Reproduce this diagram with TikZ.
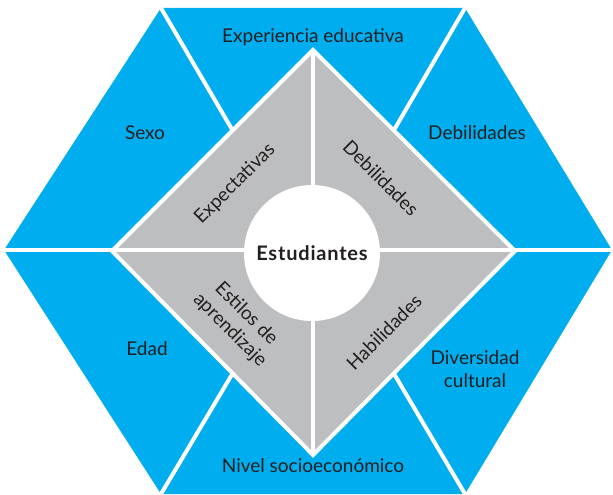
\documentclass[tikz,border=0pt]{standalone}
\usepackage{fontspec}
\setmainfont{Lato}
\usetikzlibrary{positioning,calc}
\definecolor{hexblue}{HTML}{00AEEF}
\definecolor{rhombgray}{HTML}{BCBEC0}
\definecolor{inkdark}{HTML}{231F20}

\begin{document}
\begin{tikzpicture}[x=1pt,y=-1pt,
  gap/.style={white,line width=4pt},
  lab/.style={text=inkdark,font=\fontsize{19}{23}\selectfont,align=center,inner sep=0pt}]
  \useasboundingbox (0,0) rectangle (613,495);

  \coordinate (hl) at (4,250);
  \coordinate (htl) at (161,8);
  \coordinate (htr) at (465,8);
  \coordinate (hr) at (612,250);
  \coordinate (hbr) at (465,494);
  \coordinate (hbl) at (161,494);
  \fill[hexblue] (hl) -- (htl) -- (htr) -- (hr) -- (hbr) -- (hbl) -- cycle;

  \coordinate (dt) at (313,50);
  \coordinate (dr) at (515,251);
  \coordinate (db) at (313,455);
  \coordinate (dl) at (112,251);
  \fill[rhombgray] (dt) -- (dr) -- (db) -- (dl) -- cycle;

  \draw[gap] (hl) -- (hr);
  \draw[gap] (dt) -- (db);
  \draw[gap,line join=miter] (dt) -- (dr) -- (db) -- (dl) -- cycle;
  \draw[gap] (htl) -- ($(dl)!0.6!(dt)$);
  \draw[gap] (htr) -- ($(dr)!0.6!(dt)$);
  \draw[gap] (hbl) -- ($(dl)!0.6!(db)$);
  \draw[gap] (hbr) -- ($(dr)!0.6!(db)$);

  \node[circle,fill=white,minimum size=136pt,lab,
    font=\fontsize{20}{23}\selectfont\bfseries\addfontfeature{LetterSpace=4}] (est) at (312,253) {Estudiantes};

  \node[lab] (exper) at (313,37) {Experiencia educativa};
  \node[lab] (sexo) at (145,133) {Sexo};
  \node[lab] (debil) at (477,133) {Debilidades};
  \node[lab] (edad) at (147,349) {Edad};
  \node[lab] (divers) at (475,369) {Diversidad\\cultural};
  \node[lab] (nivel) at (313,466) {Nivel socioeconómico};

  \node[lab,rotate=45] (expect) at (235,184) {Expectativas};
  \node[lab,rotate=-45] (debilin) at (381,178) {Debilidades};
  \node[lab,rotate=-45] (estilos) at (238,322) {Estilos de\\aprendizaje};
  \node[lab,rotate=45] (habil) at (384,332) {Habilidades};
\end{tikzpicture}
\end{document}
